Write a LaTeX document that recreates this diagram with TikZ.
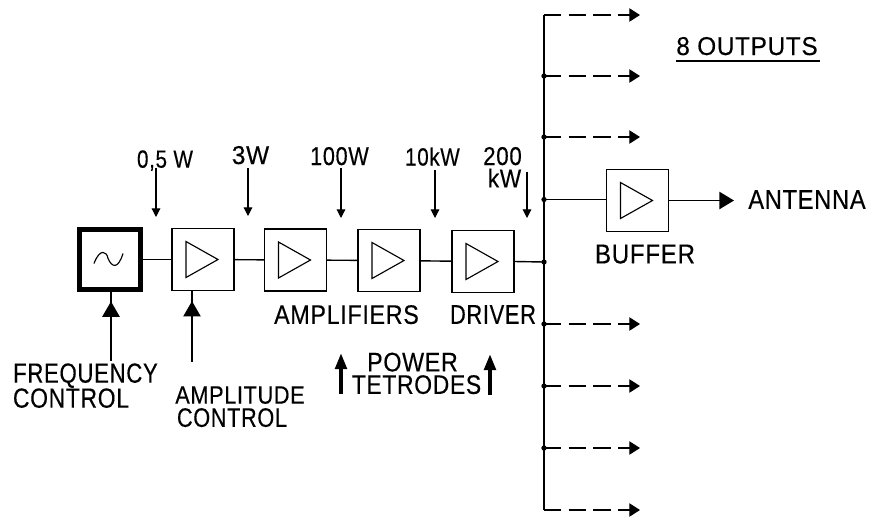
\documentclass[tikz,border=0pt]{standalone}
\usepackage{graphicx}
\usepackage{fontspec}
\setmainfont[FakeBold=0.35,LetterSpace=3]{Liberation Sans}
\usetikzlibrary{arrows.meta,decorations.markings}
\newcommand{\fitlbl}[3]{\resizebox{#1pt}{#2pt}{\raisebox{0pt}[\height][0pt]{#3}}}
\tikzset{
 x=0.75pt,y=-0.75pt,
 wire/.style={line width=1.05pt,black},
 thinw/.style={line width=0.85pt,black},
 blockbox/.style={draw,line width=1.05pt,inner sep=0,minimum width=46.5pt,minimum height=46.5pt},
 oscbox/.style={draw,line width=3.4pt,inner sep=0,minimum width=46pt,minimum height=45pt},
 lbl/.style={inner sep=0,outer sep=0,anchor=center},
 smallarrow/.style={thinw,-{Triangle[length=6.5pt,width=6.5pt]}},
 outdash/.style={line width=0.9pt,dash pattern=on 13pt off 5.5pt},
 outtip/.style={line width=0.9pt,-{Triangle[length=8pt,width=10pt]}},
 bigarrow/.style={wire,-{Triangle[length=11pt,width=13pt]}},
 ctlarrow/.style={wire,postaction={decorate},decoration={markings,mark=at position #1 with {\arrow{Triangle[length=11.5pt,width=13pt]}}}},
 tetarrow/.style={line width=2.9pt,-{Triangle[length=12pt,width=8.5pt]}},
 dot/.style={circle,fill,inner sep=0,minimum size=4pt},
}
\begin{document}
\begin{tikzpicture}
\useasboundingbox (0,0) rectangle (870,519);
% blocks
\node[oscbox] (osc) at (110,259.5) {};
\node[blockbox] (a1) at (203,259.5) {};
\node[blockbox] (a2) at (295.5,260) {};
\node[blockbox] (a3) at (389,260.5) {};
\node[blockbox] (a4) at (483,261.5) {};
\node[blockbox] (buf) at (637.5,200.5) {};
% amplifier triangles
\foreach \n in {a1,a2,a3,a4,buf}
  \draw[thinw,line join=miter] ([shift={(-17,-18)}]\n.center) -- ([shift={(15,0)}]\n.center) -- ([shift={(-17,18)}]\n.center) -- cycle;
% tilde
\draw[thinw] ([shift={(-16,4)}]osc.center) .. controls ([shift={(-10,-12)}]osc.center) and ([shift={(-3,-8)}]osc.center) .. ([shift={(-2,-1)}]osc.center) .. controls ([shift={(2,8)}]osc.center) and ([shift={(8,10)}]osc.center) .. ([shift={(13,-6)}]osc.center);
% bus
\coordinate (t0) at (544,15);
\coordinate (b8) at (544,510);
\coordinate (j1) at (544,76);
\coordinate (j2) at (544,137);
\coordinate (j3) at (544,199.5);
\coordinate (j4) at (544,262);
\coordinate (j5) at (544,324);
\coordinate (j6) at (544,386);
\coordinate (j7) at (544,448);
\coordinate (e0) at (640,15);
\coordinate (e1) at (640,76);
\coordinate (e2) at (640,137);
\coordinate (e5) at (640,324);
\coordinate (e6) at (640,386);
\coordinate (e7) at (640,448);
\coordinate (e8) at (640,510);
\draw[line width=1.4pt] (t0) -- (b8);
\foreach \a/\b in {t0/e0,j1/e1,j2/e2,j5/e5,j6/e6,j7/e7,b8/e8}{
  \draw[outdash] (\a) -- ([xshift=-6pt]\b);
  \draw[outtip] ([xshift=-14pt]\b) -- (\b);
}
\foreach \j in {j1,j2,j3,j4,j5,j6,j7}
  \node[dot] at (\j) {};
% chain
\draw[wire] (osc) -- (a1);
\draw[wire] (a1) -- (a2);
\draw[wire] (a2) -- (a3);
\draw[wire] (a3) -- (a4);
\draw[wire] (a4.east) -- (j4);
\draw[wire] (j3) -- (buf.west |- j3);
\coordinate (antend) at (734,200.5);
\draw[bigarrow] (buf) -- (antend);
% power labels
\node[lbl] (p0) at (165,159) {\fitlbl{42}{13}{0,5 W}};
\node[lbl] (p1) at (250.5,155) {\fitlbl{28}{13.5}{3W}};
\node[lbl] (p2) at (339.5,156) {\fitlbl{44}{13.5}{100W}};
\node[lbl] (p3) at (432.5,156.5) {\fitlbl{41}{13.5}{10kW}};
\node[lbl] (p4a) at (502.5,156) {\fitlbl{29}{13.5}{200}};
\node[lbl] (p4b) at (504.5,178) {\fitlbl{25}{14}{kW}};
\coordinate (s0) at (156,168); \coordinate (d0) at (156,217);
\coordinate (s1) at (248,168); \coordinate (d1) at (248,216);
\coordinate (s2) at (341,168); \coordinate (d2) at (341,218);
\coordinate (s3) at (435,170); \coordinate (d3) at (435,218);
\coordinate (s4) at (527,172); \coordinate (d4) at (527,218);
\foreach \i in {0,...,4}
  \draw[smallarrow] (s\i) -- (d\i);
% control
\coordinate (fc) at (111,361);
\coordinate (ac) at (192,362);
\draw[ctlarrow=0.86] (fc) -- (osc.south -| fc);
\draw[ctlarrow=0.86] (ac) -- (a1.south -| ac);
% labels
\node[lbl] (l1) at (85.5,373) {\fitlbl{108.5}{14.5}{FREQUENCY}};
\node[lbl] (l2) at (71,398) {\fitlbl{87}{14.5}{CONTROL}};
\node[lbl] (l3) at (240,395) {\fitlbl{97}{13}{AMPLITUDE}};
\node[lbl] (l4) at (232,417.5) {\fitlbl{82.5}{14}{CONTROL}};
\node[lbl] (l5) at (346.5,314.5) {\fitlbl{108.5}{14}{AMPLIFIERS}};
\node[lbl] (l6) at (493,314.5) {\fitlbl{64.5}{14}{DRIVER}};
\node[lbl] (l7) at (412.5,362) {\fitlbl{68}{14}{POWER}};
\node[lbl] (l8) at (416.5,384.5) {\fitlbl{97}{14}{TETRODES}};
\node[lbl] (l9) at (645,254) {\fitlbl{75}{14}{BUFFER}};
\node[lbl] (l10) at (807,199.5) {\fitlbl{88}{14}{ANTENNA}};
\node[lbl] (l11) at (747,46) {\fitlbl{106}{13.5}{8 OUTPUTS}};
\coordinate (u1) at (676,61); \coordinate (u2) at (820,61);
\draw[wire] (u1) -- (u2);
% tetrode arrows
\coordinate (t1a) at (341,394); \coordinate (t1b) at (341,353);
\coordinate (t2a) at (490,395); \coordinate (t2b) at (490,354);
\draw[tetarrow] (t1a) -- (t1b);
\draw[tetarrow] (t2a) -- (t2b);
\end{tikzpicture}
\end{document}
